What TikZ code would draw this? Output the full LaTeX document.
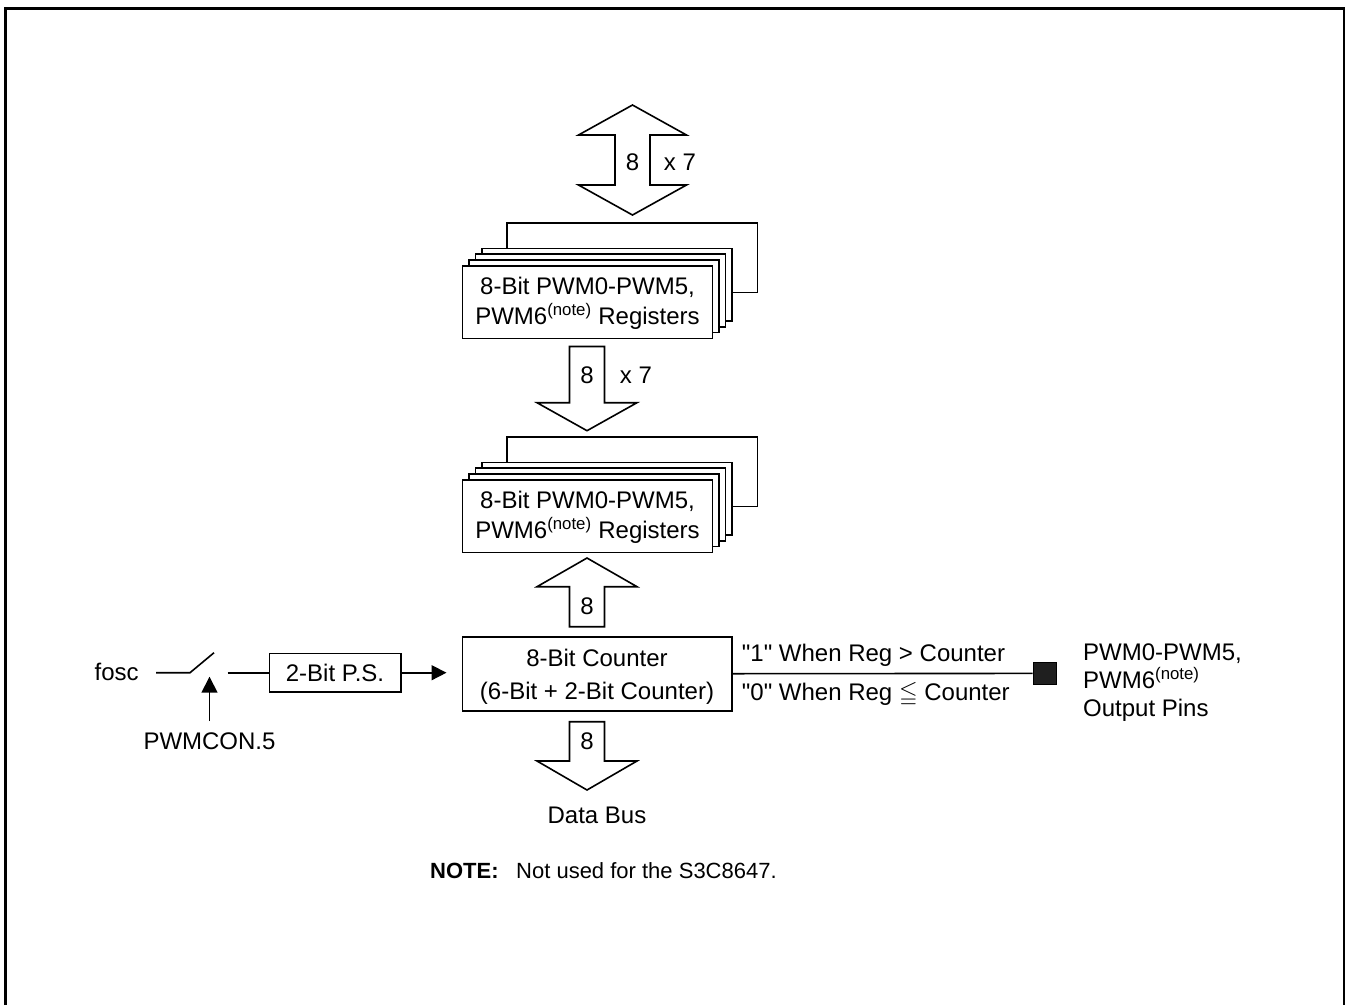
\documentclass[tikz,border=0pt]{standalone}
\usepackage{fontspec}
\usepackage{amssymb}
\setmainfont{Liberation Sans}
\usetikzlibrary{arrows.meta}
\begin{document}
\begin{tikzpicture}[x=1pt,y=-1pt,
  txt/.style={font=\fontsize{24}{30}\selectfont, inner sep=0pt},
  wire/.style={line width=1.6pt},
  regbox/.style={draw, line width=1.6pt, fill=white, minimum width=250pt, minimum height=72.6pt, inner sep=0pt},
  regtxt/.style={inner sep=0pt, align=center, font=\fontsize{24}{30}\selectfont},
  cntbox/.style={draw, line width=1.6pt, fill=white, minimum width=269.4pt, minimum height=74pt, inner sep=0pt},
  cnttxt/.style={inner sep=0pt, align=center, font=\fontsize{24}{33}\selectfont},
  psbox/.style={draw, line width=1.6pt, fill=white, minimum width=131.4pt, minimum height=38.3pt,
    inner sep=0pt, font=\fontsize{24}{30}\selectfont},
  bus/.style={draw, line width=1.6pt, fill=white, line join=miter},
  pin/.style={draw, fill=black!88, line width=1pt, minimum width=23pt, minimum height=22pt, inner sep=0pt},
  notefont/.style={inner sep=0pt, font=\fontsize{22}{28}\selectfont},
  tipA/.style={-{Triangle[length=15pt,width=15pt]}},
  tipB/.style={-{Triangle[length=16pt,width=16pt]}}
]
\useasboundingbox (0,0) rectangle (1350,1005);
% frame (open at the bottom)
\draw[line width=2.7pt] (5.7,1005) -- (5.7,8.7) -- (1344,8.7) -- (1344,1005);

% ---------- top bidirectional bus arrow ----------
\draw[bus] (632.5,105) -- (686.5,135) -- (650,135) -- (650,185) -- (686.5,185) -- (632.5,215)
  -- (578.5,185) -- (615,185) -- (615,135) -- (578.5,135) -- cycle;
\node[txt] (b8a) at (632.5,162) {8};
\node[txt] (x7a) at (680,162) {x 7};

% ---------- register stack A ----------
\foreach \i in {3,2,1}
  \node[regbox] (regA\i) at ({587.5+6.45*\i},{302-5.8*\i}) {};
\node[regbox] (regA) at (587.5,302) {};
\node[regtxt] (regAtxt) at (587.5,303.7) {8-Bit PWM0-PWM5,\\PWM6\textsuperscript{(note)} Registers};
\coordinate (fbA) at (757.3,222.7);
\draw[wire] ([xshift=26pt]regA3.north west) |- (fbA) |- ([yshift=-8pt]regA3.east);

% ---------- bus arrow A -> B ----------
\draw[bus] (569.5,346.5) -- (604.5,346.5) -- (604.5,402.7) -- (637,402.7) -- (587,430.7)
  -- (537,402.7) -- (569.5,402.7) -- cycle;
\node[txt] (b8b) at (587,375) {8};
\node[txt] (x7b) at (636,375) {x 7};

% ---------- register stack B ----------
\foreach \i in {3,2,1}
  \node[regbox] (regB\i) at ({587.5+6.45*\i},{516-5.8*\i}) {};
\node[regbox] (regB) at (587.5,516) {};
\node[regtxt] (regBtxt) at (587.5,517.7) {8-Bit PWM0-PWM5,\\PWM6\textsuperscript{(note)} Registers};
\coordinate (fbB) at (757.3,436.7);
\draw[wire] ([xshift=26pt]regB3.north west) |- (fbB) |- ([yshift=-8pt]regB3.east);

% ---------- bus arrow counter -> B ----------
\draw[bus] (587,558) -- (637,586.7) -- (604.5,586.7) -- (604.5,626.7) -- (569.5,626.7)
  -- (569.5,586.7) -- (537,586.7) -- cycle;
\node[txt] (b8c) at (587,606.7) {8};

% ---------- counter ----------
\node[cntbox] (counter) at (597,673.7) {};
\node[cnttxt] (countertxt) at (597,676.7) {8-Bit Counter\\(6-Bit + 2-Bit Counter)};

% ---------- bus arrow counter -> data bus ----------
\draw[bus] (569.5,721.7) -- (604.5,721.7) -- (604.5,761) -- (637,761) -- (587,790)
  -- (537,761) -- (569.5,761) -- cycle;
\node[txt] (b8d) at (587,741.7) {8};
\node[txt] (dbus) at (597,815) {Data Bus};

% ---------- clock input ----------
\node[txt] (fosc) at (116.7,671.5) {fosc};
\coordinate (wireL) at (156,672.7);
\coordinate (swA) at (190,672.7);
\coordinate (swB) at (214,652.7);
\coordinate (swC) at (227.7,672.7);
\draw[wire] (wireL) -- (swA) -- (swB);
\node[psbox] (ps) at (335,672.7) {2-Bit P.S.};
\draw[wire] (swC) -- (ps.west);
\coordinate (ctin) at ([xshift=-15pt]counter.west);
\draw[wire,tipA] (ps.east) -- (ps.east -| ctin);
\node[txt] (pwmcon) at (209.5,741.7) {PWMCON.5};
\coordinate (swT) at (209.5,676.7);
\draw[wire,tipB] ([yshift=12pt]pwmcon.north) -- (swT);

% ---------- output ----------
\node[pin] (pinsq) at (1044.7,673.4) {};
\draw[wire] (counter.east) -- (pinsq.west);
\node[txt,anchor=west] (gt) at (741.7,655) {\textquotedbl 1\textquotedbl{} When Reg > Counter};
\node[txt,anchor=west] (le) at (741.7,694) {\textquotedbl 0\textquotedbl{} When Reg $\leqq$ Counter};
\node[txt,anchor=base west] (out1) at (1083,660.3) {PWM0-PWM5,};
\node[txt,anchor=base west] (out2) at (1083,688.6) {PWM6\textsuperscript{(note)}};
\node[txt,anchor=base west] (out3) at (1083,716.9) {Output Pins};

% ---------- note ----------
\node[notefont,font=\fontsize{22}{28}\selectfont\bfseries,anchor=west] (note) at (430,871) {NOTE:};
\node[notefont,anchor=west] (notetext) at (516,871) {Not used for the S3C8647.};
\end{tikzpicture}
\end{document}
